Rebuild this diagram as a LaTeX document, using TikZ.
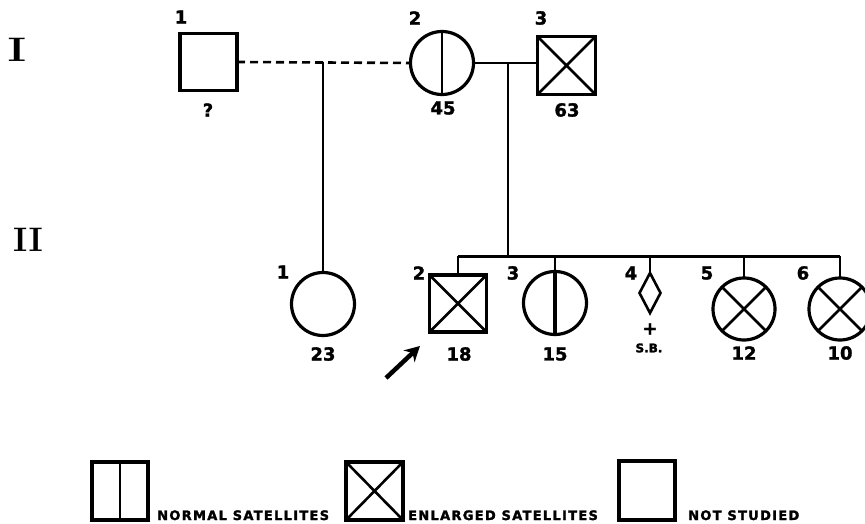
\documentclass[tikz,border=0pt]{standalone}
\usepackage{fontspec}
\setsansfont{DejaVu Sans}
\usetikzlibrary{
  arrows.meta,
  positioning,
  shapes.geometric
}

\tikzset{
  male/.style={draw, rectangle, line width=3.2pt, minimum size=57pt, inner sep=0pt, outer sep=0pt},
  female/.style={draw, circle, line width=3.2pt, minimum size=63pt, inner sep=0pt, outer sep=0pt},
  stillborn/.style={draw, diamond, line width=2.6pt, minimum width=21pt, minimum height=40pt, inner sep=0pt, outer sep=0pt},
  idnum/.style={font=\sffamily\bfseries\fontsize{18}{18}\selectfont\addfontfeature{FakeBold=1.5}},
  gennum/.style={font=\rmfamily\bfseries\fontsize{34}{34}\selectfont\addfontfeature{FakeBold=2}},
  pline/.style={line width=2.6pt},
  legtext/.style={font=\sffamily\bfseries\fontsize{13}{13}\selectfont\addfontfeature{LetterSpace=10,FakeBold=2}, anchor=base west, inner sep=0pt}
}

\begin{document}
\begin{tikzpicture}[x=1pt, y=-1pt, >=Stealth]

  \useasboundingbox (0,0) rectangle (865,524);

  % ---- generation labels ----
  \node[gennum, xscale=1.3] (genI) at (17,50) {I};
  \node[gennum] (genII) at (28,240) {II};

  % ---- generation I ----
  \node[male] (I1) at (208.5,62) {};
  \node[female] (I2) at (442,63) {};
  \node[male, minimum size=58pt] (I3) at (566.5,65.5) {};
  \draw[pline] (I2.north) -- (I2.south);
  \draw[pline] (I3.north west) -- (I3.south east) (I3.north east) -- (I3.south west);

  \node[idnum] (nI1) at (181,17) {1};
  \node[idnum] (nI2) at (415,18) {2};
  \node[idnum] (nI3) at (541,18) {3};
  \node[idnum] (aI1) at (208,110) {?};
  \node[idnum] (aI2) at (443,108) {45};
  \node[idnum] (aI3) at (567,110) {63};

  % unions
  \draw[pline, dash pattern=on 8pt off 5pt] (I1.east) -- (I2.west);
  \draw[pline] (I2.east) -- (I3.west |- I2.east);
  \coordinate (mI12) at (323,62);
  \coordinate (mI23) at (508,64);

  % ---- generation II ----
  \node[female] (II1) at (323,304) {};
  \node[male] (II2) at (458,303.5) {};
  \node[female] (II3) at (555,303) {};
  \node[stillborn] (II4) at (650,293) {};
  \node[female, minimum size=62pt] (II5) at (744,309) {};
  \node[female, minimum size=62pt] (II6) at (840,309) {};

  \draw[pline] (II2.north west) -- (II2.south east) (II2.north east) -- (II2.south west);
  \draw[line width=3.6pt] (II3.north) -- (II3.south);
  \foreach \n in {II5,II6} {
    \draw[pline] (\n.45) -- (\n.225) (\n.135) -- (\n.315);
  }

  % descent lines
  \draw[pline] (mI12) -- (II1.north);
  \coordinate (sibL) at (458,256);
  \coordinate (sibR) at (840,256);
  \draw[pline] (mI23) -- (mI23 |- sibL);
  \draw[line width=3pt] (sibL) -- (sibR);
  \foreach \n in {II2,II3,II4,II5,II6} {
    \draw[pline] (\n.north |- sibL) -- (\n.north);
  }

  \node[idnum] (nII1) at (283,272) {1};
  \node[idnum] (nII2) at (419,273) {2};
  \node[idnum] (nII3) at (513,273) {3};
  \node[idnum] (nII4) at (631,273) {4};
  \node[idnum] (nII5) at (707,273) {5};
  \node[idnum] (nII6) at (803,273) {6};
  \node[idnum] (aII1) at (323,354) {23};
  \node[idnum] (aII2) at (459,354) {18};
  \node[idnum] (aII3) at (555,354) {15};
  \node[idnum] (aII5) at (744,353) {12};
  \node[idnum] (aII6) at (840,353) {10};
  \node[idnum] (dII4) at (650,329) {+};
  \node[font=\sffamily\bfseries\fontsize{12}{12}\selectfont\addfontfeature{FakeBold=2}] (sbII4) at (649,348) {S.B.};

  % proband arrow
  \coordinate (prtail) at (386,378);
  \coordinate (prhead) at (420,346);
  \draw[line width=4.5pt, -{Stealth[length=15pt, width=16pt]}] (prtail) -- (prhead);

  % ---- legend ----
  \node[male, minimum width=56pt, minimum height=58pt] (L1) at (120,491) {};
  \draw[pline] (L1.north) -- (L1.south);
  \node[legtext] (tL1) at (157,520) {NORMAL SATELLITES};

  \node[male, minimum width=57pt, minimum height=58pt] (L2) at (374.5,491) {};
  \draw[pline] (L2.north west) -- (L2.south east) (L2.north east) -- (L2.south west);
  \node[legtext] (tL2) at (408,520) {ENLARGED SATELLITES};

  \node[male, minimum width=56pt, minimum height=59pt] (L3) at (647,490.5) {};
  \node[legtext] (tL3) at (688,520) {NOT STUDIED};

\end{tikzpicture}
\end{document}
